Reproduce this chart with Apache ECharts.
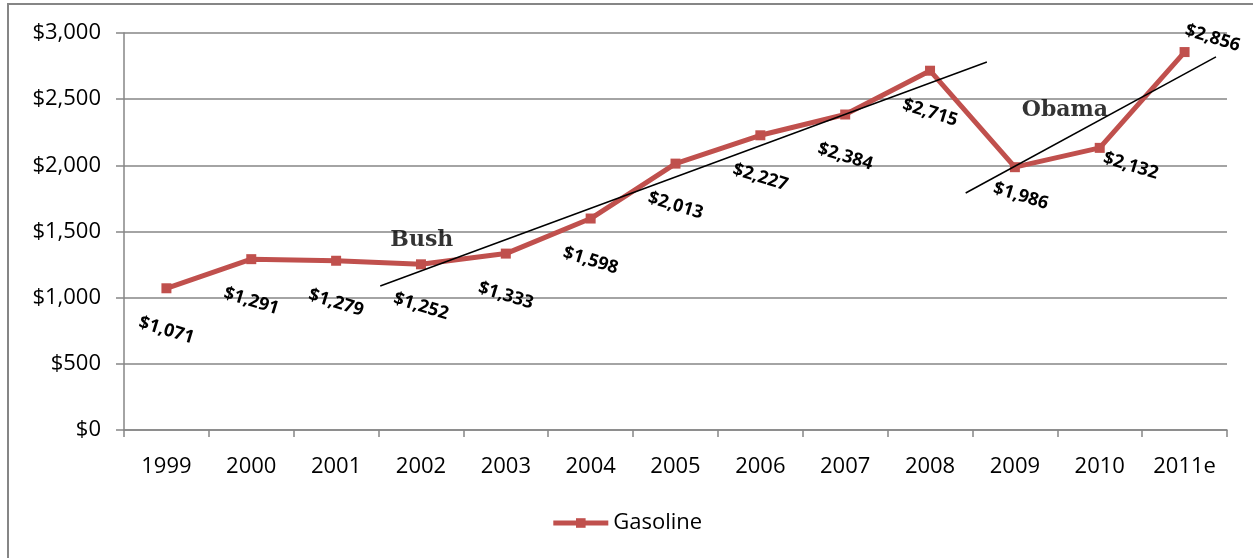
<!DOCTYPE html>
<html>
<head>
<meta charset="utf-8">
<script src="https://cdn.jsdelivr.net/npm/echarts@6/dist/echarts.min.js"></script>
<style>
  html, body { margin: 0; padding: 0; background: #fff; }
  #main { width: 1253px; height: 558px; }
</style>
</head>
<body>
<div id="main"></div>
<script>
// ===== data =====
const years = ['1999', '2000', '2001', '2002', '2003', '2004', '2005', '2006', '2007', '2008', '2009', '2010', '2011e'];
const gasoline = [1071, 1291, 1279, 1252, 1333, 1598, 2013, 2227, 2384, 2715, 1986, 2132, 2856];

// trend lines: [category index, value]
const bushTrend = [[2.52, 1088], [9.67, 2781]];
const obamaTrend = [[9.42, 1791], [12.37, 2819]];

// annotation text anchors: [category index, value, text]
const notes = [[3.01, 1436, 'Bush'], [10.59, 2418, 'Obama']];

const yTicks = { min: 0, max: 3000, interval: 500 };

// ===== style =====
const RED = '#C0504D';
const GREY = '#868686';
const FONT = '"Open Sans", "Liberation Sans", sans-serif';
const SYM = 10;

// label offset from point centre (default below, a few moved)
function labelOffset(i) {
  if (i === 10) return [6, 29];
  if (i === 11) return [31, 18];
  if (i === 12) return [28, -14];
  return [0, 42];
}

const fmtMoney = v => '$' + v.toLocaleString('en-US');

const chart = echarts.init(document.getElementById('main'), null, { renderer: 'canvas' });

const option = {
  animation: false,
  backgroundColor: '#fff',
  textStyle: { fontFamily: FONT },
  graphic: [{
    type: 'rect',
    shape: { x: 8, y: 4, width: 1300, height: 600 },
    style: { fill: 'none', stroke: GREY, lineWidth: 2 },
    silent: true
  }],
  grid: { left: 124, right: 26, top: 33, bottom: 128 },
  legend: {
    bottom: 19,
    left: 'center',
    itemWidth: 55,
    itemHeight: 12,
    itemGap: 10,
    data: ['Gasoline'],
    lineStyle: { width: 5 },
    textStyle: { fontSize: 22, color: '#000', fontFamily: FONT }
  },
  xAxis: [{
    type: 'category',
    data: years,
    boundaryGap: true,
    axisLine: { show: true, onZero: false, lineStyle: { color: GREY, width: 1.5 } },
    axisTick: { show: true, length: 7, lineStyle: { color: GREY, width: 1.5 } },
    axisLabel: { fontSize: 22, color: '#000', margin: 26, fontFamily: FONT, interval: 0 },
    splitLine: { show: false }
  }, {
    type: 'value',
    min: -0.5,
    max: 12.5,
    show: false
  }],
  yAxis: {
    type: 'value',
    min: yTicks.min,
    max: yTicks.max,
    interval: yTicks.interval,
    axisLine: { show: true, onZero: false, lineStyle: { color: GREY, width: 1.5 } },
    axisTick: { show: true, length: 8, lineStyle: { color: GREY, width: 1.5 } },
    axisLabel: { fontSize: 22, color: '#000', margin: 23, fontFamily: FONT, formatter: fmtMoney },
    splitLine: { show: true, lineStyle: { color: GREY, width: 1.5 } }
  },
  series: [{
    name: 'Gasoline',
    type: 'line',
    data: gasoline.map((v, i) => {
      const off = labelOffset(i);
      return {
        value: v,
        label: { position: [SYM / 2 + off[0], SYM / 2 + off[1]] }
      };
    }),
    symbol: 'rect',
    symbolSize: SYM,
    lineStyle: { color: RED, width: 5 },
    itemStyle: { color: RED },
    label: {
      show: true,
      formatter: p => fmtMoney(p.value),
      rotate: -17,
      align: 'center',
      verticalAlign: 'middle',
      fontSize: 18,
      fontWeight: 'bold',
      color: '#000',
      fontFamily: FONT
    },
    z: 3
  }, {
    name: 'bushTrend',
    type: 'line',
    xAxisIndex: 1,
    data: bushTrend,
    symbol: 'none',
    silent: true,
    lineStyle: { color: '#000', width: 1.5 },
    z: 4
  }, {
    name: 'obamaTrend',
    type: 'line',
    xAxisIndex: 1,
    data: obamaTrend,
    symbol: 'none',
    silent: true,
    lineStyle: { color: '#000', width: 1.5 },
    z: 4
  }, {
    name: 'notes',
    type: 'scatter',
    xAxisIndex: 1,
    data: notes.map(n => ({ value: [n[0], n[1]], name: n[2] })),
    symbolSize: 0,
    silent: true,
    label: {
      show: true,
      position: 'inside',
      formatter: p => p.name,
      fontFamily: '"DejaVu Serif", "Liberation Serif", serif',
      fontWeight: 'bold',
      fontSize: 22,
      color: '#000'
    },
    z: 5
  }]
};

chart.setOption(option);
</script>
</body>
</html>
